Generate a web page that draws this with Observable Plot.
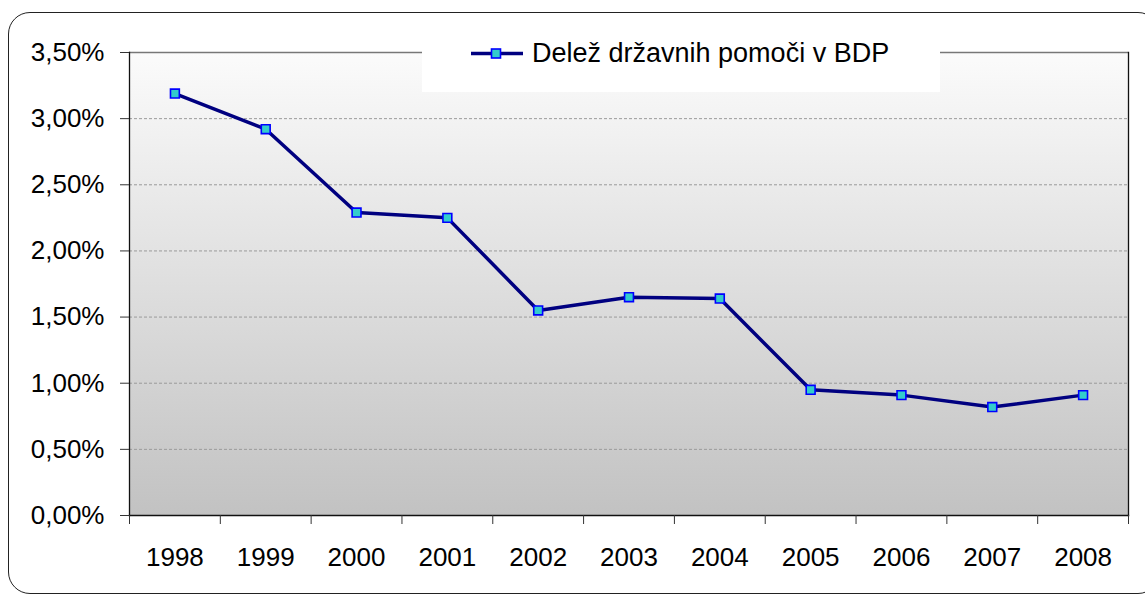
<!DOCTYPE html>
<html>
<head>
<meta charset="utf-8">
<script src="https://cdn.jsdelivr.net/npm/d3@7"></script>
<script src="https://cdn.jsdelivr.net/npm/@observablehq/plot@0.6"></script>
<style>
  html, body { margin: 0; padding: 0; background: #fff; overflow: hidden; }
  #wrap { position: relative; width: 1145px; height: 597px; overflow: hidden; font-family: "Liberation Sans", Arial, sans-serif; }
  #chart { position: absolute; left: 0; top: 0; }
  #border { position: absolute; left: 8px; top: 12px; width: 1150px; height: 580px; border: 1.5px solid #222; border-radius: 22px; pointer-events: none; }
  #legend { position: absolute; left: 422px; top: 14px; width: 518px; height: 78px; background: #fff; }
  #legend svg { position: absolute; left: 0; top: 0; }
</style>
</head>
<body>
<div id="wrap">
  <div id="chart"></div>
  <div id="border"></div>
  <div id="legend"></div>
</div>
<script>
const years = [1998, 1999, 2000, 2001, 2002, 2003, 2004, 2005, 2006, 2007, 2008];
const shares = [3.19, 2.92, 2.29, 2.25, 1.55, 1.65, 1.64, 0.95, 0.91, 0.82, 0.91];
const yTicks = [0, 0.5, 1.0, 1.5, 2.0, 2.5, 3.0, 3.5];
const seriesName = "Delež državnih pomoči v BDP";

const data = years.map((y, i) => ({year: y, value: shares[i]}));
const boundaries = [...years.map(y => y - 0.5), years[years.length - 1] + 0.5];
const fmtPct = d => d.toFixed(2).replace(".", ",") + "%";

const plot = Plot.plot({
  width: 1145,
  height: 597,
  marginLeft: 129,
  marginRight: 17,
  marginTop: 52,
  marginBottom: 82,
  style: {fontFamily: "'Liberation Sans', Arial, sans-serif", fontSize: "26px", color: "#000", background: "transparent"},
  x: {domain: [years[0] - 0.5, years[years.length - 1] + 0.5]},
  y: {domain: [0, 3.5]},
  marks: [
    Plot.frame({fill: "url(#bgGrad)", stroke: "none"}),
    Plot.ruleY(yTicks.filter(d => d > 0 && d < 3.5), {stroke: "#9a9a9a", strokeDasharray: "3,2", strokeWidth: 1}),
    Plot.ruleY([3.5], {stroke: "#777", strokeWidth: 1.5}),
    Plot.frame({anchor: "left", stroke: "#111", strokeWidth: 1.3}),
    Plot.frame({anchor: "right", stroke: "#111", strokeWidth: 1.3}),
    Plot.frame({anchor: "bottom", stroke: "#111", strokeWidth: 1.3}),
    Plot.axisY({ticks: yTicks, tickFormat: fmtPct, tickSize: 9, tickPadding: 16, stroke: "#333", fontSize: 26, label: null}),
    Plot.axisX({ticks: boundaries, tickFormat: () => "", tickSize: 9, stroke: "#333", label: null}),
    Plot.axisX({ticks: years, tickFormat: d => String(d), tickSize: 0, tickPadding: 32, fontSize: 26, label: null}),
    Plot.line(data, {x: "year", y: "value", stroke: "#000080", strokeWidth: 3.5}),
    Plot.dot(data, {x: "year", y: "value", symbol: "square", r: 5, fill: "#33cccc", stroke: "#0000ff", strokeWidth: 1.6})
  ]
});

// gradient background for plot area
const ns = "http://www.w3.org/2000/svg";
const defs = document.createElementNS(ns, "defs");
defs.innerHTML = `<linearGradient id="bgGrad" x1="0" y1="0" x2="0" y2="1">
  <stop offset="0" stop-color="#fbfbfb"/>
  <stop offset="1" stop-color="#c2c2c2"/>
</linearGradient>`;
plot.insertBefore(defs, plot.firstChild);
document.getElementById("chart").appendChild(plot);

// legend
const lg = document.getElementById("legend");
lg.innerHTML = `<svg width="518" height="78" xmlns="${ns}">
  <line x1="49" y1="39.5" x2="101" y2="39.5" stroke="#000080" stroke-width="3.5"/>
  <rect x="69.5" y="35" width="9" height="9" fill="#33cccc" stroke="#0000ff" stroke-width="1.6"/>
  <text x="110" y="47.7" font-family="'Liberation Sans', Arial, sans-serif" font-size="27" fill="#000">${seriesName}</text>
</svg>`;
</script>
</body>
</html>
